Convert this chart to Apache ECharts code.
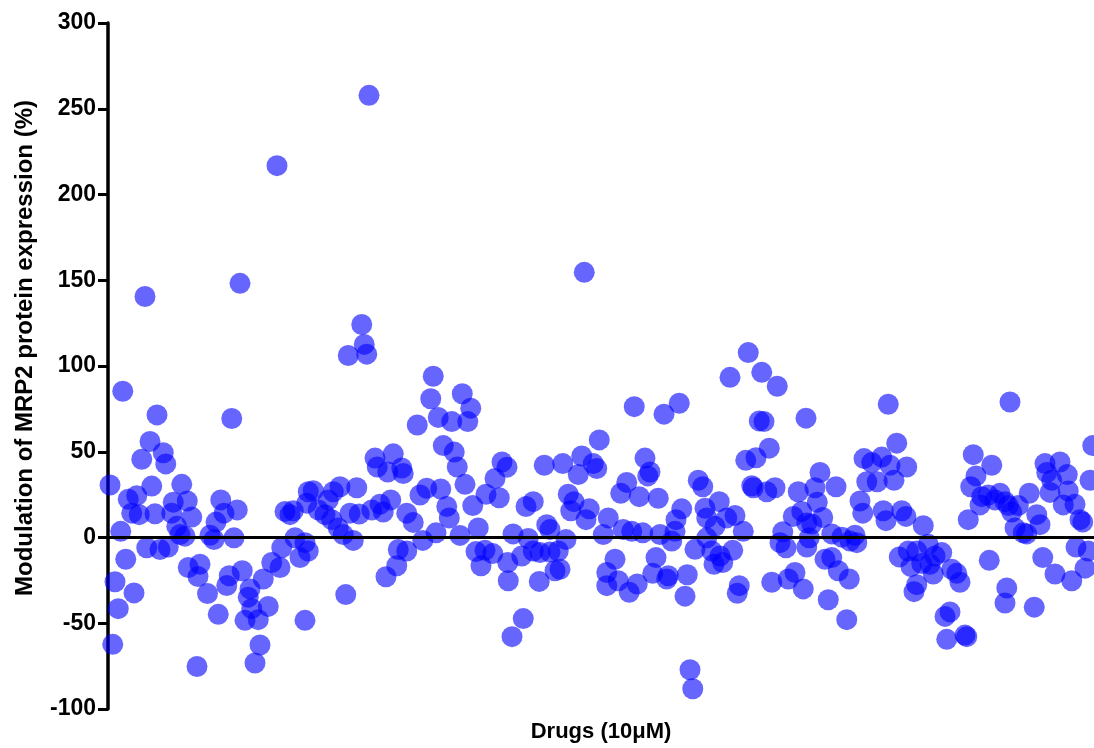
<!DOCTYPE html>
<html>
<head>
<meta charset="utf-8">
<title>MRP2 modulation</title>
<script src="https://cdn.jsdelivr.net/npm/echarts@6/dist/echarts.min.js"></script>
<style>
  html, body { margin: 0; padding: 0; background: #fff; }
  #chart { width: 1094px; height: 748px; }
</style>
</head>
<body>
<div id="chart"></div>
<script>
// drug position along the x axis (order of screening, no labels shown)
var drugIndex = [
  0.8, 1.9, 2.8, 4.1, 5.1, 5.9, 7.1, 8.1, 9.5, 10.4,
  11.5, 12.5, 13.5, 14.8, 15.5, 16.8, 17.5, 18.8, 19.6, 20.8,
  22.1, 23.1, 24.1, 25.5, 26.1, 27.5, 28.8, 29.5, 30.8, 31.7,
  32.1, 33.5, 35.6, 36, 36.8, 39.8, 40.8, 42.4, 43.2, 44.1,
  45.1, 46.4, 47.5, 48.5, 49.5, 50.4, 51.7, 52.8, 53.7, 54.8,
  56.1, 56.8, 57.5, 58.8, 60.1, 60.8, 62.1, 64.1, 65.5, 67.6,
  68.8, 69.5, 70.8, 72.8, 74.1, 74.8, 76.8, 78.8, 78.8, 79.5,
  80.1, 80.1, 82.1, 84.1, 86.8, 88.1, 89.5, 90.1, 92.1, 92.8,
  94.1, 95.1, 96.1, 96.8, 98.1, 99.5, 100.5, 101.5, 102.5, 103.5,
  104.4, 105.5, 106.8, 107.7, 108.8, 110.1, 111.2, 111.9, 113.1, 114.1,
  115.5, 116.1, 117.5, 118.1, 119.5, 119.5, 122.1, 123.7, 124.8, 125.9,
  127.5, 129.1, 130.1, 131.2, 132.1, 133.1, 134.1, 135.5, 136.5, 137.5,
  138.5, 139.7, 140.8, 141.7, 142.8, 143.9, 145.1, 145.9, 147.2, 148.1,
  149.2, 150.8, 151.2, 153.9, 154.8, 156.5, 157.6, 159.6, 159.9, 160.1,
  161.6, 162, 165.5, 166.1, 167.2, 168.1, 170.1, 170.1, 172.5, 172.8,
  174.5, 175.5, 176.8, 176.8, 178.8, 180.1, 180.8, 181.9, 183.2, 184.1,
  185.1, 186.4, 188.1, 189.5, 190.5, 191.2, 192.5, 194.1, 195.5, 196.5,
  198.1, 199.5, 199.5, 200.1, 202.8, 204.1, 205.1, 206.1, 207.5, 208.5,
  209.5, 210.5, 211.7, 212.5, 213.9, 214.8, 215.9, 216.8, 217.9, 219.2,
  220.1, 220.8, 222.4, 223.5, 224.1, 225.5, 226.8, 227.2, 228.5, 229.5,
  230.8, 231.7, 232.8, 233.9, 234.8, 236.1, 237.9, 238.8, 239.5, 239.5,
  241.5, 242.4, 242.8, 244.5, 244.8, 245.9, 247.5, 248.8, 249.9, 250.8,
  251.7, 252.5, 254.1, 255.1, 256.1, 257.5, 258.1, 259.2, 260.5, 261.5,
  262.4, 263.5, 264.5, 265.5, 266.8, 267.7, 268.8, 269.9, 271.2, 272.1,
  274.1, 274.8, 276.1, 277.5, 278.1, 279.2, 279.5, 279.5, 280.5, 281.5,
  282.8, 283.7, 284.8, 285.9, 286.8, 288.1, 289.5, 289.5, 291.2, 292.1,
  293.5, 295.5, 296.5, 296.8, 298.8, 299.5, 300.8, 301.9, 302.4, 303.5,
  305.5, 307.7, 309.5, 310.1, 311.2, 312.1, 312.8, 314.4, 315.5, 316.5,
  317.5, 319.2, 319.5, 320.1, 321.2, 322.4, 323.5, 323.5, 325.5, 326.1,
  328.1, 328.8, 330.1, 330.8, 333.5, 334.8, 335.5, 336.8, 337.5, 339.5,
  340.8, 342.8, 343.5, 344.1, 345.1, 346.1, 347.2, 348.8, 349.5, 352.1,
  352.5, 353.5, 354.8, 356.8, 358.8, 358.8, 359.5, 360.1, 360.8, 361.5,
  362.8, 364.1, 366.1, 367.5, 368.5, 370.5, 371.5, 372.8, 373.9, 374.8,
  375.5, 376.8, 377.5, 378.8, 380.8, 382.1, 383.7, 384.1, 385.5, 386.8,
  387.2, 388.8, 389.9, 390.8, 392.1, 392.8, 393.9
];

// modulation of MRP2 protein expression (%), same order as drugIndex
var modulation = [
  30.6, -62.3, -25.8, -41.5, 3.6, 85.3, -12.7, 22.3, 14.2, -32.3,
  24.4, 13.3, 45.6, 140.5, -6, 56, 30, 13.8, 71.5, -7,
  49.4, 42.9, -5.6, 14.2, 20.6, 6.5, 1.7, 31, 0.8, 21.3,
  -17.5, 11.9, -75.2, -22.8, -15.6, -32.7, 1.3, -1.2, 9, -44.8,
  21.9, 14.2, -28, -22.3, 69.4, -0.2, 16.1, 148.2, -19.4, -48.3,
  -34.8, -30, -41.5, -73.2, -47.9, -62.7, -24.2, -40.2, -14.6, 216.8,
  -17.5, -6, 15.2, 13.3, 15.6, -0.2, -11.7, -3, -48.3, 20,
  26.7, -7.9, 27.3, 16.1, 13.3, 21.9, 10.4, 26.7, 5.6, 29.6,
  1.7, -33.3, 106.1, 14.2, -1.7, 29, 13.7, 124.2, 112.6, 106.9,
  257.8, 16.1, 46.3, 41.1, 19.4, 14.8, -22.9, 38.2, 21.9, 48.8,
  -16.5, -7, 40.5, 37.3, 14.2, -7.9, 8.8, 65.6, 24.8, -1.7,
  28.7, 80.9, 94, 2.7, 70, 28.3, 53.6, 18.1, 11.4, 67.6,
  49.8, 41.1, 1.2, 83.8, 31, 67.6, 75.4, 18.6, -8.2, 5.6,
  -16.5, -7.5, 25.2, -9.4, 34.4, 23.2, 44, 41, -14.6, -25.2,
  -57.8, 2.1, -10.8, -47.3, 18.1, -0.6, 20.9, -7.9, -25.6, -8.8,
  42.1, 7.5, 4.6, -8.5, -19.4, -7.9, -18.5, 43.1, -1.2, 25.2,
  15.6, 20.9, 36.7, 47.5, 154.6, 10.4, 16.7, 43.1, 40.2, 56.9,
  1.7, -20.4, -28.1, 11.4, -12.7, -25.2, 25.8, 4.6, 32.1, -31.9,
  3.6, 76.3, -27.1, 23.8, 2.7, 46.3, 35.9, 38.2, -20.9, -11.7,
  22.9, 1.7, 71.9, -24.2, -22.3, -2.1, 3.6, 10.4, 78.3, 16.7,
  -34.2, -21.7, -77.1, -88.2, -6.9, 33.4, 29.6, 17.1, -0.2, 11.4,
  -7.9, -15.6, 6.5, 20.9, -10.8, -14.6, 11.4, 93.4, -7.5, 12.9,
  -32.5, -28.1, 3.6, 45, 107.8, 30.2, 29, 46.5, 68, 96.3,
  67.6, 26.7, 52.1, -26.1, 29, 88.2, -3, 3.3, -6, -24.2,
  12.3, -20.4, 26.7, 15.2, -30, 69.6, 8.5, -5.6, -0.2, 7.9,
  29, 20.6, 37.9, 11.7, -12.7, -36.3, 2.1, -11.7, 29.6, -19.4,
  0.2, -47.9, -24.2, -2.1, 1.3, -3, 21.3, 14.2, 46, 32.5,
  43.7, 32.5, 46.9, 15.6, 9.8, 77.7, 42.1, 33.4, 55, -11.3,
  15.6, 12.3, 41.1, -7.9, -17, -31.6, -7.9, -27.5, -15.2, 6.9,
  -4, -15.6, -21.3, -10.8, -8.8, -46, -59.4, -43.4, -18.5, -20.9,
  -26.1, -56.9, -57.8, 10.4, 29.6, 48.3, 35.9, 19, 23.8, 24.8,
  -13.3, 42.1, 21.9, 25.8, 20.9, -38.2, -29.4, 18.6, 79, 14.8,
  5.6, 18.6, 2.7, 2.1, 25.8, -40.6, 13.3, 7.5, -11.7, 43.1,
  37.9, 26.3, 33.4, -21.3, 44, 19, 36.7, 27.1, -25.2, 19.4,
  -5.6, 10.4, 9, -17.9, -7.9, 33.4, 53.6
];

var yTicks = [-100, -50, 0, 50, 100, 150, 200, 250, 300];

var points = drugIndex.map(function (x, i) {
  return [x, modulation[i]];
});

var chart = echarts.init(document.getElementById('chart'), null, { renderer: 'canvas' });

var boldFont = 'Liberation Sans, Arial, sans-serif';

chart.setOption({
  animation: false,
  backgroundColor: '#fff',
  grid: {
    left: 108,
    right: 0,
    top: 23,
    bottom: 31,
    containLabel: false
  },
  xAxis: {
    type: 'value',
    min: 0,
    max: 394.4,
    name: 'Drugs (10\u03bcM)',
    nameLocation: 'middle',
    nameGap: 12,
    nameTextStyle: {
      color: '#000',
      fontFamily: boldFont,
      fontWeight: 'bold',
      fontSize: 22
    },
    axisLine: { show: false },
    axisTick: { show: false },
    axisLabel: { show: false },
    splitLine: { show: false }
  },
  yAxis: {
    type: 'value',
    min: yTicks[0],
    max: yTicks[yTicks.length - 1],
    interval: 50,
    name: 'Modulation of MRP2 protein expression (%)',
    nameLocation: 'middle',
    nameRotate: 90,
    nameGap: 71,
    nameTextStyle: {
      color: '#000',
      fontFamily: boldFont,
      fontWeight: 'bold',
      fontSize: 24,
      // nudge the title a bit upward, as in the original figure
      padding: [0, 0, 0, 36]
    },
    axisLine: { show: true, onZero: false, lineStyle: { color: '#000', width: 3.5 } },
    axisTick: { show: true, length: 10, lineStyle: { color: '#000', width: 3 } },
    axisLabel: {
      margin: 12,
      color: '#000',
      fontFamily: boldFont,
      fontWeight: 'bold',
      fontSize: 23
    },
    splitLine: { show: false }
  },
  series: [
    {
      type: 'scatter',
      data: points,
      symbol: 'circle',
      symbolSize: 21,
      itemStyle: { color: 'rgba(0, 0, 255, 0.75)' },
      // zero reference line
      markLine: {
        silent: true,
        symbol: ['none', 'none'],
        label: { show: false },
        lineStyle: { color: '#000', width: 3, type: 'solid' },
        data: [{ yAxis: 0 }]
      }
    }
  ]
});
</script>
</body>
</html>
